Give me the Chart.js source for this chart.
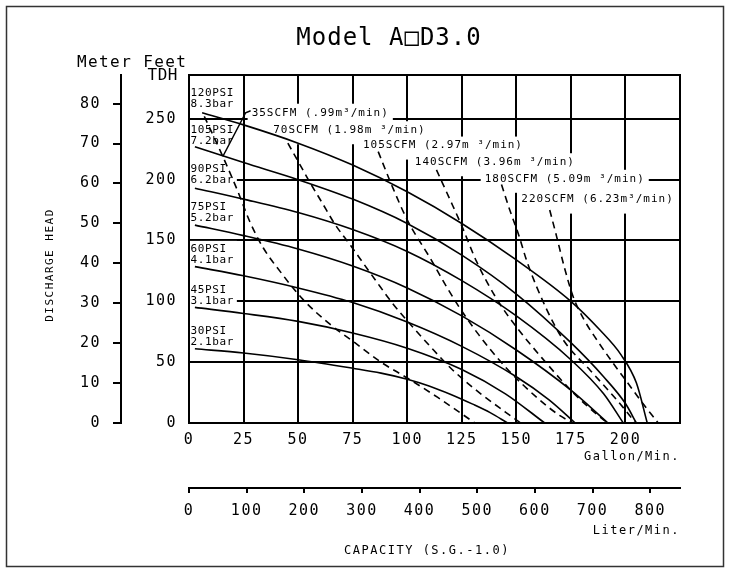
<!DOCTYPE html>
<html>
<head>
<meta charset="utf-8">
<script src="https://cdn.jsdelivr.net/npm/chart.js@4.4.1/dist/chart.umd.min.js"></script>
<style>
  html, body { margin: 0; padding: 0; background: #fff; }
</style>
</head>
<body>
<canvas id="pump" width="730" height="573"></canvas>
<script>
const gallonTicks = [0, 25, 50, 75, 100, 125, 150, 175, 200];
const literTicks = [0, 100, 200, 300, 400, 500, 600, 700, 800];
const feetTicks = [0, 50, 100, 150, 200, 250];
const meterTicks = [0, 10, 20, 30, 40, 50, 60, 70, 80];
const gallonMax = 225;
const feetMax = 286;

// head vs capacity at a given air inlet pressure: [gpm, feet]
const psi120 = [[6,255],[25,245],[50,230],[75,212],[100,190],[125,164],[150,134],[175,100],[188,77],[198,56],[205,33],[210,0]];
const psi105 = [[2.7,227],[25,214],[50,200],[75,184],[100,164],[125,138],[150,106],[175,66],[190,38],[200,16],[205,0]];
const psi90 = [[2.7,193],[25,184],[50,173],[75,159],[100,141],[125,117],[150,88],[175,52],[190,24],[199,0]];
const psi75 = [[2.7,162.6],[25,154],[50,143],[75,129],[100,111],[125,88],[150,60],[175,27],[192,0]];
const psi60 = [[2.7,128.5],[25,121],[50,111],[75,99],[100,83],[125,63],[150,38],[165,19],[177,0]];
const psi45 = [[2.7,95],[25,90],[50,83.5],[75,74],[100,61.5],[125,44],[145,24],[163,0]];
const psi30 = [[2.7,61],[25,57.5],[50,52],[75,45],[88,41],[100,36],[110,30.5],[120,23.5],[130,15.5],[138,8.5],[146,0]];

// air consumption lines: [gpm, feet]
const scfm35 = [[7,252],[14,225],[22,192],[28,165],[34,144],[42,124],[52,102],[64,82],[76,66],[88,50],[100,37],[114,21],[131,0]];
const scfm70 = [[45.3,230],[50,215],[55,199],[61,181],[67,163],[74,146],[80,131],[86,116],[93,99],[100,84],[110,64],[120,45],[133,25],[145,9],[152,0]];
const scfm105 = [[86.7,223],[93,195],[100,167],[111,134],[118,112],[125,92],[133,72],[145,46],[160,20],[170,6],[176,0]];
const scfm140 = [[113.4,208],[119.5,184],[125,162],[131.7,133],[141,102],[150,79],[161,55],[176,25],[189,4],[192,0]];
const scfm180 = [[143.2,196],[147,175],[151,155],[155,132],[164,93],[172,67],[184,43],[196,19],[202,6],[204.5,0]];
const scfm220 = [[165.3,175],[168.5,153],[172,128],[176,104],[181,85],[187,68],[194,50],[201,33],[208,16],[215,0]];

const psiNames = ['120PSI', '105PSI', '90PSI', '75PSI', '60PSI', '45PSI', '30PSI'];
const barNames = ['8.3bar', '7.2bar', '6.2bar', '5.2bar', '4.1bar', '3.1bar', '2.1bar'];
const scfmNames = ['35SCFM (.99m³/min)', '70SCFM (1.98m ³/min)', '105SCFM (2.97m ³/min)',
                   '140SCFM (3.96m ³/min)', '180SCFM (5.09m ³/min)', '220SCFM (6.23m³/min)'];

// where the curve labels sit, in gpm / feet
const psiLabelAt = [[0.7,271.5],[0.7,241],[0.7,209],[0.7,177.3],[0.7,143.1],[0.7,109],[0.7,75.9]];
const scfmLabelAt = [[28.7,255],[38.6,240.6],[79.7,228],[103.5,214.3],[135.5,200.7],[152.3,183.6]];
const leaderTo = [15.5, 219];

const MONO = '"DejaVu Sans Mono", monospace';

function curve(points, dashed) {
  return {
    data: points,
    showLine: true,
    borderColor: '#000',
    borderWidth: 1.6,
    borderDash: dashed ? [7, 5] : [],
    pointRadius: 0,
    cubicInterpolationMode: 'monotone'
  };
}

function drawText(ctx, str, x, y, size, spacing, align) {
  ctx.font = size + 'px ' + MONO;
  ctx.letterSpacing = spacing + 'px';
  ctx.textAlign = align || 'left';
  ctx.textBaseline = 'middle';
  ctx.fillStyle = '#000';
  ctx.fillText(str, x, y);
}

function labelBoxes(chart) {
  const {ctx, scales: {x, y}} = chart;
  const boxes = [];
  ctx.save();
  ctx.font = '11px ' + MONO;
  ctx.letterSpacing = '1px';
  scfmNames.forEach((name, i) => {
    const px = x.getPixelForValue(scfmLabelAt[i][0]);
    const py = y.getPixelForValue(scfmLabelAt[i][1]);
    boxes.push({name, px, py, w: ctx.measureText(name).width, lines: 1, spacing: 1});
  });
  ctx.letterSpacing = '0.6px';
  psiNames.forEach((name, i) => {
    const px = x.getPixelForValue(psiLabelAt[i][0]);
    const py = y.getPixelForValue(psiLabelAt[i][1]);
    const w = Math.max(ctx.measureText(name).width, ctx.measureText(barNames[i]).width);
    boxes.push({name, sub: barNames[i], px, py, w, lines: 2, spacing: 0.6});
  });
  ctx.restore();
  return boxes;
}

const chartDecor = {
  id: 'chartDecor',
  beforeDraw(chart) {
    const ctx = chart.ctx;
    ctx.save();
    ctx.fillStyle = '#fff';
    ctx.fillRect(0, 0, chart.width, chart.height);
    ctx.restore();
    ctx.letterSpacing = '1.5px';
  },
  beforeDatasetsDraw(chart) {
    const {ctx, chartArea: a} = chart;
    ctx.save();
    ctx.fillStyle = '#fff';
    labelBoxes(chart).forEach(b => {
      if (b.lines === 2) ctx.fillRect(b.px - 3, b.py - 8, b.w + 6, 26);
      else ctx.fillRect(b.px - 4, b.py - 9, b.w + 8, 23);
    });
    ctx.strokeStyle = '#000';
    ctx.lineWidth = 2;
    ctx.strokeRect(a.left, a.top, a.right - a.left, a.bottom - a.top);
    ctx.restore();
  },
  afterDatasetsDraw(chart) {
    const {ctx, scales: {x, y}} = chart;
    ctx.save();
    labelBoxes(chart).forEach(b => {
      drawText(ctx, b.name, b.px, b.py, 11, b.spacing);
      if (b.sub) drawText(ctx, b.sub, b.px, b.py + 11, 11, b.spacing);
    });
    // leader from the 35 SCFM label down to its curve
    const lx = x.getPixelForValue(scfmLabelAt[0][0]);
    const ly = y.getPixelForValue(scfmLabelAt[0][1]);
    ctx.strokeStyle = '#000';
    ctx.lineWidth = 1.5;
    ctx.beginPath();
    ctx.moveTo(lx - 1, ly - 2);
    ctx.lineTo(lx - 6, ly);
    ctx.lineTo(x.getPixelForValue(leaderTo[0]), y.getPixelForValue(leaderTo[1]));
    ctx.stroke();
    ctx.restore();
  },
  afterDraw(chart) {
    const ctx = chart.ctx;
    ctx.save();
    drawText(ctx, 'Model A□D3.0', 389, 39, 24, 1, 'center');
    drawText(ctx, 'Meter Feet', 77, 63, 16, 1.4);
    drawText(ctx, 'TDH', 178, 76, 16, 0.5, 'right');
    drawText(ctx, 'CAPACITY (S.G.-1.0)', 427, 551, 12, 1.5, 'center');
    ctx.translate(50, 265);
    ctx.rotate(-Math.PI / 2);
    drawText(ctx, 'DISCHARGE HEAD', 0, 0, 11, 1.5, 'center');
    ctx.restore();
    ctx.save();
    ctx.strokeStyle = '#333';
    ctx.lineWidth = 1.5;
    ctx.strokeRect(6.5, 6.5, 717, 560);
    ctx.restore();
  }
};

const tickFont = {family: MONO, size: 15};
const titleFont = {family: MONO, size: 12};
const useTicks = list => scale => { scale.ticks = list.map(v => ({value: v})); };

new Chart(document.getElementById('pump'), {
  type: 'scatter',
  data: {
    datasets: [
      curve(psi120), curve(psi105), curve(psi90), curve(psi75), curve(psi60), curve(psi45), curve(psi30),
      curve(scfm35, true), curve(scfm70, true), curve(scfm105, true),
      curve(scfm140, true), curve(scfm180, true), curve(scfm220, true)
    ]
  },
  options: {
    responsive: false,
    animation: false,
    layout: {padding: {left: 8, right: 50, top: 75, bottom: 32}},
    plugins: {legend: {display: false}, tooltip: {enabled: false}},
    scales: {
      x: {
        type: 'linear', position: 'bottom', weight: 0,
        min: 0, max: gallonMax,
        afterBuildTicks: useTicks(gallonTicks),
        afterFit: s => { s.height = 65; },
        grid: {color: '#000', lineWidth: 2, drawTicks: false},
        border: {display: false},
        ticks: {font: tickFont, color: '#000', padding: 8, maxRotation: 0},
        title: {display: true, text: 'Gallon/Min.', align: 'end', font: titleFont, color: '#000', padding: {top: 0, bottom: 24}}
      },
      liter: {
        type: 'linear', position: 'bottom', weight: 1,
        min: 0, max: gallonMax * 3.78541,
        afterBuildTicks: useTicks(literTicks),
        afterFit: s => { s.height = 53; },
        grid: {color: '#000', lineWidth: 2, drawOnChartArea: false, tickLength: 5},
        border: {display: true, color: '#000', width: 2},
        ticks: {font: tickFont, color: '#000', padding: 9, maxRotation: 0},
        title: {display: true, text: 'Liter/Min.', align: 'end', font: titleFont, color: '#000', padding: {top: 0, bottom: 3}}
      },
      y: {
        type: 'linear', position: 'left', weight: 0,
        min: 0, max: feetMax,
        afterBuildTicks: useTicks(feetTicks),
        afterFit: s => { s.width = 68; },
        grid: {color: '#000', lineWidth: 2, drawTicks: false},
        border: {display: false},
        ticks: {font: tickFont, color: '#000', padding: 12}
      },
      meter: {
        type: 'linear', position: 'left', weight: 1,
        min: 0, max: feetMax * 0.3048,
        afterBuildTicks: useTicks(meterTicks),
        afterFit: s => { s.width = 113; },
        grid: {color: '#000', lineWidth: 2, drawOnChartArea: false, tickLength: 8},
        border: {display: true, color: '#000', width: 2},
        ticks: {font: tickFont, color: '#000', padding: 12}
      }
    }
  },
  plugins: [chartDecor]
});
</script>
</body>
</html>
